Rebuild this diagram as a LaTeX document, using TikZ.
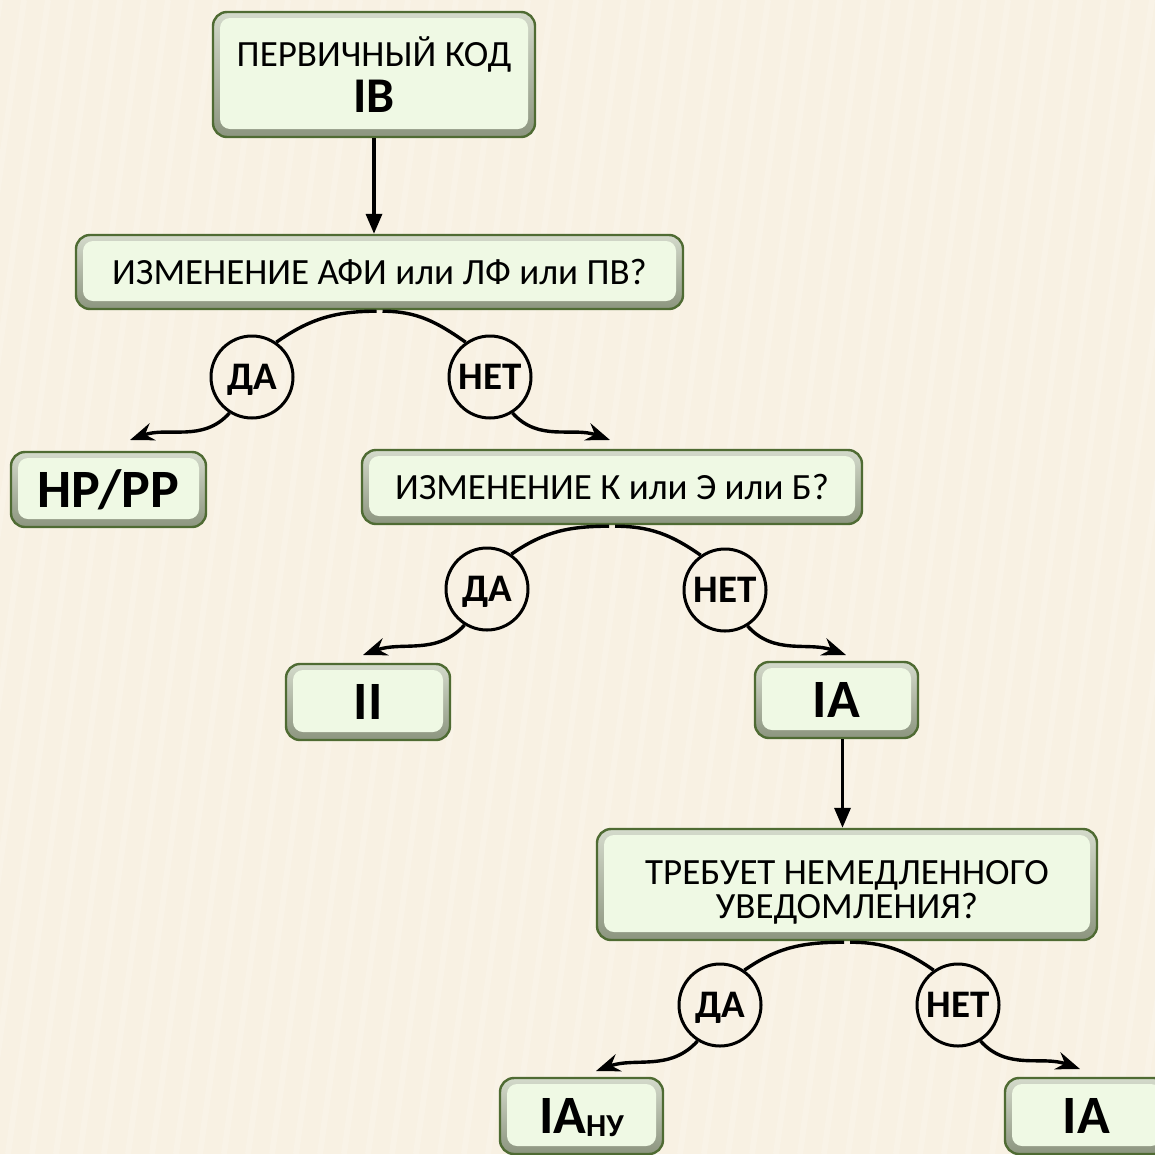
\documentclass[tikz,border=0pt]{standalone}
\usepackage{fontspec}
\setmainfont{Carlito}
\usetikzlibrary{arrows.meta}
\definecolor{bgc}{HTML}{F8F1E3}
\definecolor{bordc}{HTML}{4F6B33}
\definecolor{bevtop}{HTML}{D4DACB}
\definecolor{bevbot}{HTML}{8C957F}
\definecolor{innerc}{HTML}{EFF9E4}
\tikzset{
  x=1pt,y=1pt,
  bx/.style={draw=bordc, line width=2.4pt, rounded corners=14pt,
    top color=bevtop, bottom color=bevbot, inner sep=0pt, align=center,
    path picture={\fill[innerc, rounded corners=10pt]
      ([shift={(7pt,-6pt)}]path picture bounding box.north west) rectangle
      ([shift={(-7pt,8pt)}]path picture bounding box.south east);}},
  reg/.style={font=\fontsize{37}{33}\selectfont, text height=24pt, text depth=0pt},
  big/.style={font=\fontsize{54}{54}\selectfont\bfseries, text height=35pt, text depth=0pt},
  circ/.style={circle, draw=black, line width=3pt, minimum size=82pt, inner sep=0pt,
    font=\fontsize{39}{39}\selectfont\bfseries, text height=25pt, text depth=0pt},
  conn/.style={line width=3.4pt, black},
  carr/.style={conn, -{Stealth[length=24pt,width=18pt,inset=8pt]}},
  varr/.style={conn, -{Triangle[length=20pt,width=16pt]}},
}
\begin{document}
\begin{tikzpicture}
\fill[bgc] (0,0) rectangle (1155,-1154);
\useasboundingbox (0,0) rectangle (1155,-1154);
\begin{scope}[white, opacity=0.16, line width=6pt]
\foreach \i in {0,24,...,1350} {\draw (\i-160,-1154) -- (\i,0);}
\end{scope}
% boxes
\node[bx, minimum width=322pt, minimum height=125pt, font=\fontsize{37}{40}\selectfont] (top) at (374,-74.5)
  {ПЕРВИЧНЫЙ КОД\\[6pt]{\fontsize{50}{40}\selectfont\bfseries IB}};
\node[bx, reg, minimum width=607pt, minimum height=74pt] (q1) at (379.5,-272) {ИЗМЕНЕНИЕ АФИ или ЛФ или ПВ?};
\node[bx, big, minimum width=195pt, minimum height=75pt] (hp) at (108.5,-489.5) {HP/PP};
\node[bx, reg, minimum width=500pt, minimum height=74pt] (q2) at (612,-487) {ИЗМЕНЕНИЕ К или Э или Б?};
\node[bx, big, minimum width=164pt, minimum height=76pt] (ii) at (368,-702) {II};
\node[bx, big, minimum width=163pt, minimum height=76pt] (ia) at (836.5,-700) {IA};
\node[bx, minimum width=500pt, minimum height=111pt, font=\fontsize{37}{34}\selectfont] (q3) at (847,-884.5) {\rule{0pt}{40pt}ТРЕБУЕТ НЕМЕДЛЕННОГО\\УВЕДОМЛЕНИЯ?};
\node[bx, big, minimum width=163pt, minimum height=76pt] (ianu) at (581.5,-1116) {IA{\fontsize{32}{30}\selectfont\raisebox{-3pt}{НУ}}};
\node[bx, big, minimum width=163pt, minimum height=76pt] (ia2) at (1086.5,-1116) {IA};
% circles
\node[circ] (da1) at (252,-377) {ДА};
\node[circ] (net1) at (490,-377) {НЕТ};
\node[circ] (da2) at (487,-589) {ДА};
\node[circ] (net2) at (725,-590) {НЕТ};
\node[circ] (da3) at (720,-1005) {ДА};
\node[circ] (net3) at (958,-1005) {НЕТ};
% arrow ends
\coordinate (t1) at (130,-440);
\coordinate (t2) at (610,-440);
\coordinate (t3) at (363,-655);
\coordinate (t4) at (846,-655);
\coordinate (t5) at (596,-1071);
\coordinate (t6) at (1080,-1069);
% vertical arrows
\draw[varr] (top.south) -- (top.south |- q1.north);
\draw[varr] ([xshift=6pt]ia.south) -- ([xshift=6pt]ia.south |- q3.north);
% branch arcs
\foreach \q/\d/\n in {q1/da1/net1, q2/da2/net2, q3/da3/net3} {
  \draw[conn] ([xshift=-3pt,yshift=-1pt]\q.south) to[out=180,in=35] (\d.55);
  \draw[conn] ([xshift=3pt,yshift=-1pt]\q.south) to[out=0,in=145] (\n.125);
}
\draw[carr] (da1.238) to[out=228,in=20] (t1);
\draw[carr] (net1.302) to[out=312,in=160] (t2);
\draw[carr] (da2.238) to[out=228,in=20] (t3);
\draw[carr] (net2.302) to[out=312,in=160] (t4);
\draw[carr] (da3.238) to[out=228,in=20] (t5);
\draw[carr] (net3.302) to[out=312,in=160] (t6);
\end{tikzpicture}
\end{document}
